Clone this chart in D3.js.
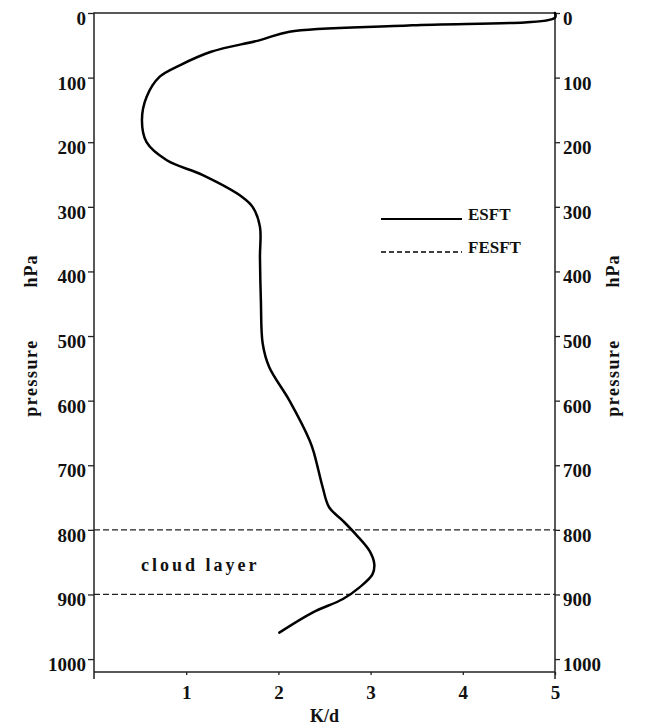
<!DOCTYPE html>
<html>
<head>
<meta charset="utf-8">
<script src="https://cdn.jsdelivr.net/npm/d3@7"></script>
<style>
  body { margin: 0; background: #fff; }
  text { font-family: "Liberation Serif", "Times New Roman", serif; fill: #111; }
</style>
</head>
<body>
<script>
// heating rate profile (K/d) against pressure (hPa)
const pressure = [0, 7, 19, 29, 42, 60, 81, 99, 130, 166, 200, 228, 251, 285, 300, 331, 378, 445,
                  512, 548, 600, 662, 683, 734, 765, 786, 807, 833, 853, 869, 889, 907, 928, 959];
const heating  = [5.0, 5.0, 3.45, 2.12, 1.80, 1.27, 0.93, 0.71, 0.57, 0.52, 0.57, 0.79, 1.18, 1.61, 1.72, 1.80, 1.80, 1.81,
                  1.83, 1.90, 2.12, 2.34, 2.39, 2.48, 2.55, 2.70, 2.84, 2.99, 3.04, 3.02, 2.88, 2.70, 2.37, 2.01];
const cloudLevels = [800, 900];
const pTicks = [0, 100, 200, 300, 400, 500, 600, 700, 800, 900, 1000];
const kTicks = [1, 2, 3, 4, 5];
const legendNames = ["ESFT", "FESFT"];

const width = 646, height = 728;
const margin = {top: 13, right: 91, bottom: 56, left: 94};
const axis_color = "#222";

const svg = d3.select("body").append("svg")
    .attr("width", width)
    .attr("height", height);

const x = d3.scaleLinear().domain([0, 5]).range([margin.left, width - margin.right]);
const y = d3.scaleLinear().domain([0, 1020]).range([margin.top, height - margin.bottom]);

// frame
const x0 = x(0), x1 = x(5), y0 = y(0), y1 = y(1020);
svg.append("path")
    .attr("d", `M${x0},${y1 + 7}V${y0}H${x1}V${y1 + 7}M${x0},${y1}H${x1}`)
    .attr("fill", "none")
    .attr("stroke", axis_color)
    .attr("stroke-width", 1.5);

// left / right pressure axes
const fmt = d3.format("d");
const leftAxis = svg.append("g")
    .attr("transform", `translate(${x0},0)`)
    .call(d3.axisLeft(y).tickValues(pTicks).tickFormat(fmt).tickSize(6).tickPadding(2));
const rightAxis = svg.append("g")
    .attr("transform", `translate(${x1},0)`)
    .call(d3.axisRight(y).tickValues(pTicks).tickFormat(fmt).tickSize(5).tickPadding(3));
const bottomAxis = svg.append("g")
    .attr("transform", `translate(0,${y1})`)
    .call(d3.axisBottom(x).tickValues(kTicks).tickFormat(fmt).tickSize(3).tickPadding(11));

[leftAxis, rightAxis, bottomAxis].forEach(g => {
    g.select(".domain").remove();
    g.selectAll(".tick line").attr("stroke", axis_color).attr("stroke-width", 1.3);
    g.selectAll(".tick text")
        .style("font-family", "'Liberation Serif', serif")
        .style("font-weight", "bold")
        .style("font-size", "19px")
        .attr("fill", "#111");
});
leftAxis.selectAll(".tick text").attr("dy", "0.6em");
rightAxis.selectAll(".tick text").attr("dy", "0.6em");

// axis titles
const titleStyle = sel => sel
    .style("font-weight", "bold")
    .style("font-size", "18px");

svg.append("text")
    .attr("x", (x0 + x1) / 2)
    .attr("y", 722)
    .attr("text-anchor", "middle")
    .text("K/d")
    .call(titleStyle);

[37, 619].forEach(cx => {
    svg.append("text")
        .attr("transform", `translate(${cx},378) rotate(-90)`)
        .attr("text-anchor", "middle")
        .style("letter-spacing", "1.5px")
        .text("pressure")
        .call(titleStyle);
    svg.append("text")
        .attr("transform", `translate(${cx},271) rotate(-90)`)
        .attr("text-anchor", "middle")
        .style("letter-spacing", "1px")
        .text("hPa")
        .call(titleStyle);
});

// cloud layer boundaries
svg.selectAll(".cloud")
    .data(cloudLevels)
    .enter()
    .append("line")
    .attr("class", "cloud")
    .attr("x1", x0).attr("x2", x1)
    .attr("y1", d => y(d)).attr("y2", d => y(d))
    .attr("stroke", axis_color)
    .attr("stroke-width", 1.2)
    .attr("stroke-dasharray", "6,3");

svg.append("text")
    .attr("x", 141)
    .attr("y", y(d3.mean(cloudLevels)) + 9)
    .style("font-size", "18px")
    .style("font-weight", "bold")
    .style("letter-spacing", "3px")
    .text("cloud layer");

// ESFT profile
const profile = pressure.map((p, i) => ({p: p, k: heating[i]}));
const line = d3.line()
    .x(d => x(d.k))
    .y(d => y(d.p))
    .curve(d3.curveCatmullRom.alpha(0.5));

svg.append("path")
    .datum(profile)
    .attr("d", line)
    .attr("fill", "none")
    .attr("stroke", "#000")
    .attr("stroke-width", 2.5)
    .attr("stroke-linejoin", "round")
    .attr("stroke-linecap", "round");

// legend
const legend = svg.append("g");
legendNames.forEach((name, i) => {
    const ly = 219 + i * 33;
    legend.append("line")
        .attr("x1", 381).attr("x2", 462)
        .attr("y1", ly).attr("y2", ly)
        .attr("stroke", "#000")
        .attr("stroke-width", i === 0 ? 2 : 1.3)
        .attr("stroke-dasharray", i === 0 ? null : "5,3");
    legend.append("text")
        .attr("x", 468)
        .attr("y", ly + 1)
        .style("font-size", "17px")
        .style("font-weight", "bold")
        .text(name);
});
</script>
</body>
</html>
